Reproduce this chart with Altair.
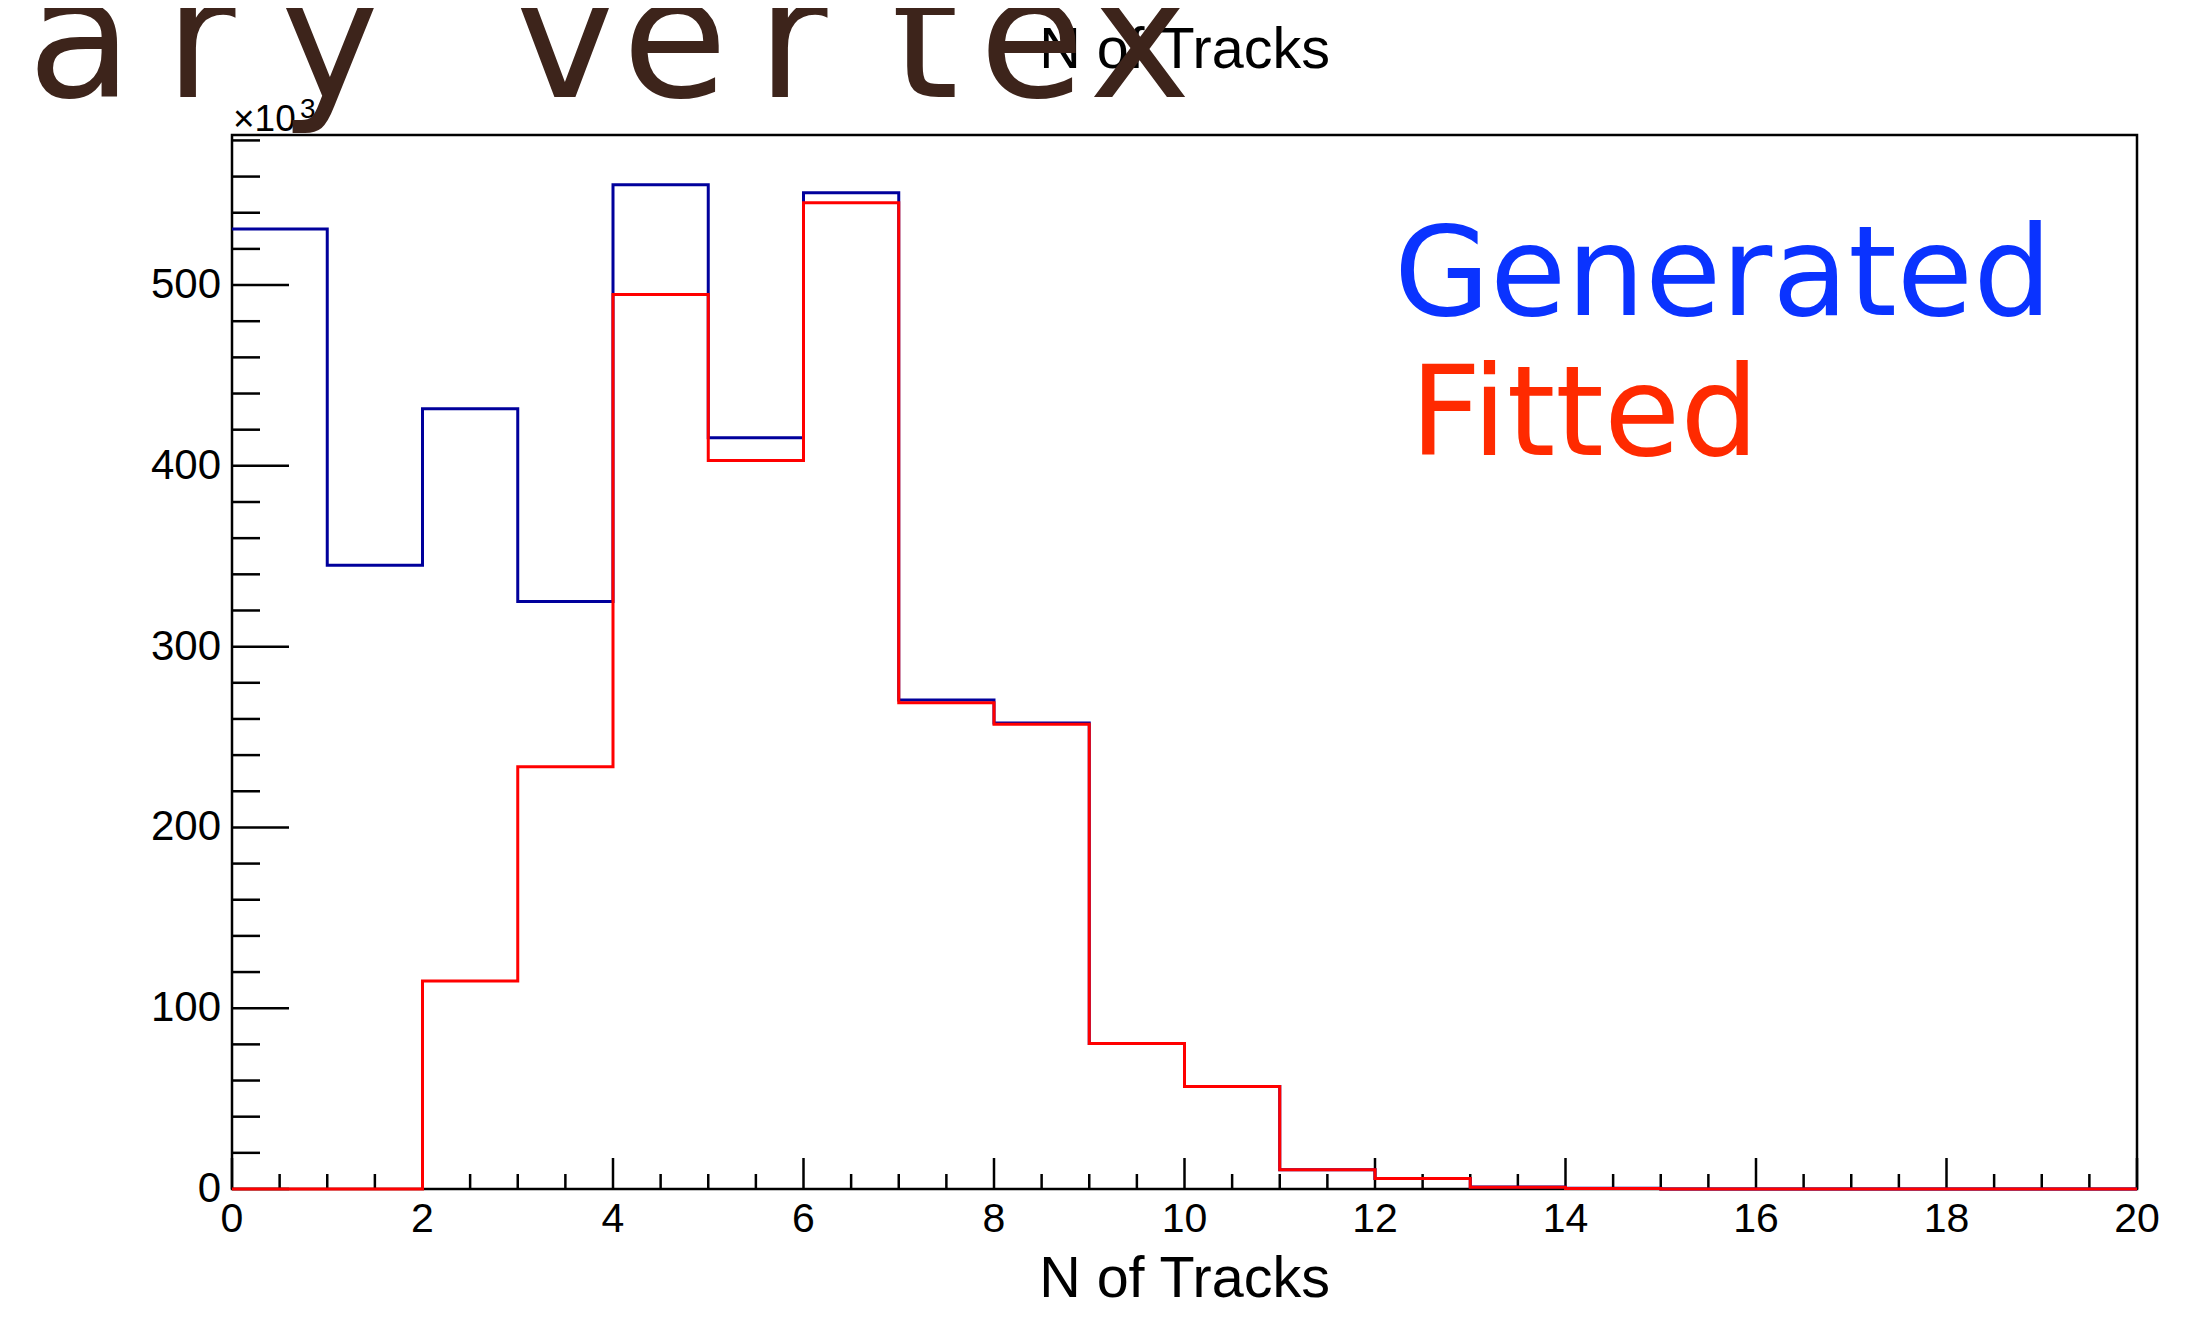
import altair as alt
import pandas as pd

# ---------------- data (values in units of 10^3 entries) ----------------
bin_low_edges = [0, 1, 2, 3, 4, 5, 6, 7, 8, 9, 10, 11, 12, 13, 14, 15, 16, 17, 18, 19]
x_max = 20
generated_k = [531.0, 345.0, 431.6, 325.0, 555.5, 415.5, 551.0, 270.5, 257.7, 80.5,
               56.7, 10.6, 5.8, 1.1, 0.4, 0.0, 0.0, 0.0, 0.0, 0.0]
fitted_k = [0.0, 0.0, 115.0, 233.6, 494.8, 403.0, 545.5, 269.0, 257.0, 80.5,
            56.7, 10.6, 5.8, 1.0, 0.3, 0.0, 0.0, 0.0, 0.0, 0.0]

x_tick_labels = [0, 2, 4, 6, 8, 10, 12, 14, 16, 18, 20]
y_tick_labels = [0, 100, 200, 300, 400, 500]
x_minor_ticks = [v / 2 for v in range(1, 40) if v % 4 != 0]
y_minor_ticks = [v for v in range(20, 600, 20) if v % 100 != 0]

legend_names = ["Generated", "Fitted"]
axis_title = "N of Tracks"
slide_title_letters = ["a", "r", "y", "v", "e", "r", "t", "e", "x"]

# ---------------- layout / style ----------------
W, H = 1905, 1054
XDOM = [0, 20]
YDOM = [0, 583]
LABEL_FONT = "Liberation Sans"
BLUE = "#00009c"
RED = "#ff0000"
BROWN = "#3d241b"
title_letter_px = [-152, -32, 98, 333, 443, 560, 693, 800, 908]


def step_frame(vals):
    return pd.DataFrame({"x": bin_low_edges + [x_max], "y": vals + [vals[-1]]})


xscale = alt.Scale(domain=XDOM, nice=False, zero=False)
yscale = alt.Scale(domain=YDOM, nice=False, zero=False)

dummy = pd.DataFrame({"d": [0]})

frame = alt.Chart(dummy).mark_rect(fillOpacity=0, stroke="black", strokeWidth=2.5).encode(
    x=alt.value(0), x2=alt.value(W), y=alt.value(0), y2=alt.value(H))

y_major = alt.Chart(pd.DataFrame({"v": y_tick_labels})).mark_rule(
    color="black", strokeWidth=2.5).encode(
    y=alt.Y("v:Q", scale=yscale, axis=None), x=alt.value(0), x2=alt.value(57))
y_minor = alt.Chart(pd.DataFrame({"v": y_minor_ticks})).mark_rule(
    color="black", strokeWidth=2.5).encode(
    y=alt.Y("v:Q", scale=yscale, axis=None), x=alt.value(0), x2=alt.value(28))
x_major = alt.Chart(pd.DataFrame({"v": x_tick_labels})).mark_rule(
    color="black", strokeWidth=2.5).encode(
    x=alt.X("v:Q", scale=xscale, axis=None), y=alt.value(H), y2=alt.value(H - 31))
x_minor = alt.Chart(pd.DataFrame({"v": x_minor_ticks})).mark_rule(
    color="black", strokeWidth=2.5).encode(
    x=alt.X("v:Q", scale=xscale, axis=None), y=alt.value(H), y2=alt.value(H - 15))

y_labels = alt.Chart(pd.DataFrame({"v": y_tick_labels})).mark_text(
    font=LABEL_FONT, fontSize=42, color="black", align="right", baseline="middle").encode(
    y=alt.Y("v:Q", scale=yscale, axis=None), x=alt.value(-11),
    text=alt.Text("v:Q", format="d"))
x_labels = alt.Chart(pd.DataFrame({"v": x_tick_labels})).mark_text(
    font=LABEL_FONT, fontSize=41, color="black", align="center", baseline="alphabetic").encode(
    x=alt.X("v:Q", scale=xscale, axis=None), y=alt.value(H + 43),
    text=alt.Text("v:Q", format="d"))

gen_line = alt.Chart(step_frame(generated_k)).mark_line(
    interpolate="step-after", strokeWidth=3, color=BLUE).encode(
    x=alt.X("x:Q", scale=xscale, axis=None),
    y=alt.Y("y:Q", scale=yscale, axis=None))
fit_line = alt.Chart(step_frame(fitted_k)).mark_line(
    interpolate="step-after", strokeWidth=3, color=RED).encode(
    x=alt.X("x:Q", scale=xscale, axis=None),
    y=alt.Y("y:Q", scale=yscale, axis=None))

leg_gen = alt.Chart(dummy).mark_text(
    text=legend_names[0], font="DejaVu Sans", fontSize=124, color="#0a33ff",
    align="left", baseline="alphabetic").encode(x=alt.value(1162), y=alt.value(180))
leg_fit = alt.Chart(dummy).mark_text(
    text=legend_names[1], font="DejaVu Sans", fontSize=124, color="#ff2a00",
    align="left", baseline="alphabetic").encode(x=alt.value(1178), y=alt.value(320))

top_title = alt.Chart(dummy).mark_text(
    text=axis_title, font=LABEL_FONT, fontSize=57.5, color="black",
    align="center", baseline="alphabetic").encode(x=alt.value(W / 2), y=alt.value(-67))
x_title = alt.Chart(dummy).mark_text(
    text=axis_title, font=LABEL_FONT, fontSize=57.5, color="black",
    align="center", baseline="alphabetic").encode(x=alt.value(W / 2), y=alt.value(1162))

exp_base = alt.Chart(dummy).mark_text(
    text="×10", font=LABEL_FONT, fontSize=37, color="black",
    align="left", baseline="alphabetic").encode(x=alt.value(1), y=alt.value(-4))
exp_sup = alt.Chart(dummy).mark_text(
    text="3", font=LABEL_FONT, fontSize=28, color="black",
    align="left", baseline="alphabetic").encode(x=alt.value(68), y=alt.value(-17))

letters = []
for ch, px in zip(slide_title_letters, title_letter_px):
    letters.append(alt.Chart(dummy).mark_text(
        text=ch, font="DejaVu Sans", fontSize=172, color=BROWN,
        align="center", baseline="alphabetic").encode(x=alt.value(px), y=alt.value(-38)))

chart = alt.layer(
    frame, y_major, y_minor, x_major, x_minor, y_labels, x_labels, gen_line, fit_line,
    leg_gen, leg_fit, top_title, x_title, exp_base, exp_sup, *letters
).properties(
    width=W, height=H,
    autosize=alt.AutoSizeParams(type="none"),
    padding={"left": 224, "top": 127, "right": 40, "bottom": 120},
    background="white",
).configure_view(strokeWidth=0)

chart.save("out.html", embed_options={"renderer": "svg", "actions": False})
